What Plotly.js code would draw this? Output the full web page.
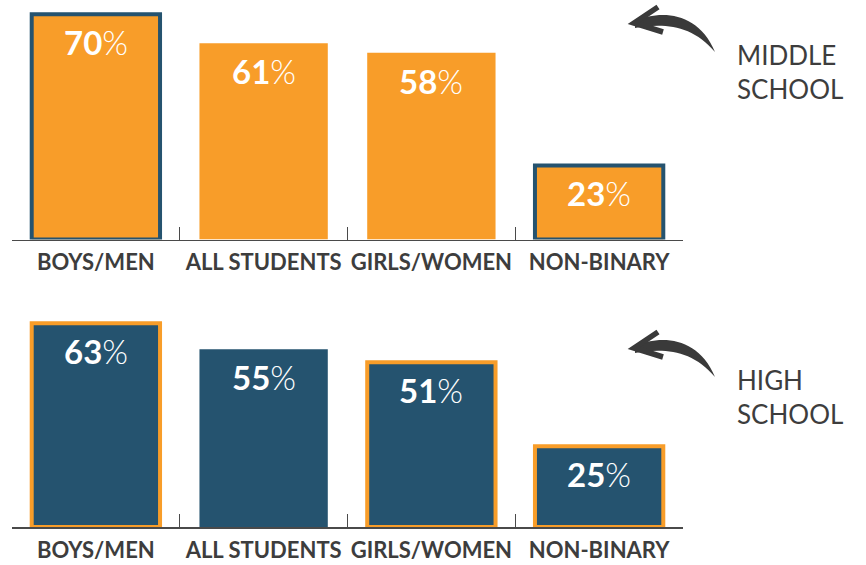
<!DOCTYPE html>
<html>
<head>
<meta charset="utf-8">
<script src="https://cdn.plot.ly/plotly-3.0.1.min.js"></script>
<style>html,body{margin:0;padding:0;background:#fff}#chart{width:866px;height:565px}</style>
</head>
<body>
<div id="chart"></div>
<script>
// ---- data ----
const categories = ['BOYS/MEN', 'ALL STUDENTS', 'GIRLS/WOMEN', 'NON-BINARY'];
const middleSchool = [70, 61, 58, 23];
const highSchool = [63, 55, 51, 25];
const middleLabel = ['MIDDLE', 'SCHOOL'];
const highLabel = ['HIGH', 'SCHOOL'];

// ---- style ----
const ORANGE = '#F89D29';
const NAVY = '#25536F';
const INK = '#3D3D3D';
const W = 866, H = 565;
const M = {l: 12, r: 183, t: 0, b: 38};
const PW = W - M.l - M.r, PH = H - M.t - M.b;
const px2x = px => (px - M.l) / PW;
const py2y = py => (M.t + PH - py) / PH;
const P = (x, y) => px2x(x).toFixed(5) + ',' + py2y(y).toFixed(5);

const traces = [
  {
    type: 'bar', x: categories, y: middleSchool, xaxis: 'x', yaxis: 'y',
    width: 0.765,
    marker: {color: ORANGE, line: {color: NAVY, width: [4, 0, 0, 4]}},
    hoverinfo: 'skip'
  },
  {
    type: 'bar', x: categories, y: highSchool, xaxis: 'x2', yaxis: 'y2',
    width: 0.765,
    marker: {color: NAVY, line: {color: ORANGE, width: [4, 0, 4, 4]}},
    hoverinfo: 'skip'
  }
];

const xaxisBase = {
  type: 'category', range: [-0.5, 3.5], fixedrange: true,
  showline: true, linecolor: '#4A4A4A', linewidth: 1.5,
  ticks: 'inside', tickson: 'boundaries', ticklen: 13, tickwidth: 1.2, tickcolor: '#4A4A4A',
  showgrid: false, zeroline: false, ticklabelstandoff: 3, tickangle: 0,
  tickfont: {family: 'Lato', size: 22, color: INK, weight: 'bold'}
};
const yaxisBase = {
  range: [0, 74.4], showgrid: false, zeroline: false, showline: false,
  showticklabels: false, ticks: '', fixedrange: true
};

function valueAnns(vals, xref, yref) {
  return vals.map((v, i) => ({
    xref: xref, yref: yref, x: categories[i], y: v,
    text: '<b>' + v + '</b><span style="font-weight:300">%</span>', showarrow: false,
    yanchor: 'middle', yshift: -28,
    font: {family: 'Lato', size: 33, color: '#FFFFFF'}
  }));
}
function sideAnn(lines, yCenter) {
  return {
    xref: 'paper', yref: 'paper', x: px2x(735), y: py2y(yCenter),
    xanchor: 'left', yanchor: 'middle', align: 'left', text: lines.join('<br>'), showarrow: false,
    font: {family: 'Lato', size: 26, color: INK}
  };
}
function arrowShapes(dy) {
  return [
    {
      type: 'path', xref: 'paper', yref: 'paper',
      path: `M ${P(635, 21 + dy)} C ${P(660, 10 + dy)} ${P(698, 11 + dy)} ${P(715, 52 + dy)} C ${P(692, 24 + dy)} ${P(662, 23 + dy)} ${P(635, 28 + dy)} Z`,
      fillcolor: '#3A3A3A', line: {width: 0}
    },
    {
      type: 'path', xref: 'paper', yref: 'paper',
      path: `M ${P(658, 7 + dy)} L ${P(634, 23 + dy)} L ${P(663, 32 + dy)}`,
      line: {color: '#3A3A3A', width: 5.5}
    }
  ];
}

const layout = {
  width: W, height: H, margin: M,
  paper_bgcolor: '#FFFFFF', plot_bgcolor: '#FFFFFF',
  showlegend: false, bargap: 0.2,
  xaxis: Object.assign({}, xaxisBase, {anchor: 'y'}),
  yaxis: Object.assign({}, yaxisBase, {domain: [py2y(239.5), 1], anchor: 'x'}),
  xaxis2: Object.assign({}, xaxisBase, {anchor: 'y2'}),
  yaxis2: Object.assign({}, yaxisBase, {domain: [0, py2y(286.5)], anchor: 'x2'}),
  annotations: [].concat(
    valueAnns(middleSchool, 'x', 'y'),
    valueAnns(highSchool, 'x2', 'y2'),
    [sideAnn(middleLabel, 72), sideAnn(highLabel, 397)]
  ),
  shapes: [].concat(arrowShapes(0), arrowShapes(325))
};

Plotly.newPlot('chart', traces, layout, {displayModeBar: false, staticPlot: true});
</script>
</body>
</html>
